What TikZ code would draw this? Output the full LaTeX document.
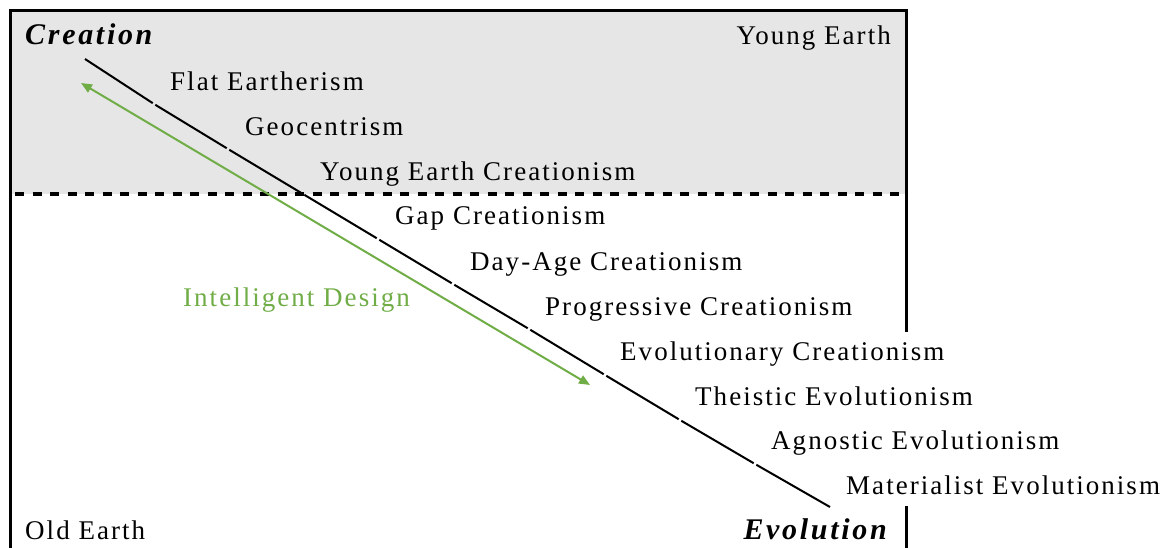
\documentclass[tikz,border=0pt]{standalone}
\usepackage{fontspec}
\setmainfont{Liberation Serif}[LetterSpace=7.5]
\usetikzlibrary{arrows.meta,calc}
\definecolor{idgreen}{HTML}{70AD47}
\definecolor{bandgray}{HTML}{E6E6E6}
\begin{document}
\begin{tikzpicture}[x=1pt,y=-1pt,
  lbl/.style={inner sep=0pt, anchor=base west, font=\fontsize{27}{32}\selectfont},
  big/.style={inner sep=0pt, font=\fontsize{30}{36}\selectfont\bfseries\itshape\addfontfeature{LetterSpace=9}},
  frame/.style={line width=3pt, line cap=rect},
  seg/.style={line width=2pt, black},
  idarrow/.style={line width=2pt, idgreen, {Triangle[length=11pt,width=9pt]}-{Triangle[length=11pt,width=9pt]}}]
\useasboundingbox (0,0) rectangle (1162,548);
% young-earth shaded band
\fill[bandgray] (10,11) rectangle (906,194);
\draw[line width=3.3pt, dash pattern=on 9pt off 8.5pt] (15,194) -- (906,194);
% frame
\draw[frame] (10,548) -- (10,11) -- (906,11) -- (906,330);
\draw[frame] (906,507) -- (906,548);
% corner labels
\node[big, anchor=base west] (creation) at (25,45) {Creation};
\node[lbl, anchor=base east] (young) at (891,45) {Young Earth};
\node[lbl] (old) at (25,539) {Old Earth};
\node[big, anchor=base east] (evolution) at (887,539) {Evolution};
% row labels
\node[lbl] (r0) at (170,91) {Flat Eartherism};
\node[lbl] (r1) at (245,136) {Geocentrism};
\node[lbl] (r2) at (320,181) {Young Earth Creationism};
\node[lbl] (r3) at (395,225) {Gap Creationism};
\node[lbl] (r4) at (470,270) {Day-Age Creationism};
\node[lbl] (r5) at (545,315) {Progressive Creationism};
\node[lbl] (r6) at (620,360) {Evolutionary Creationism};
\node[lbl] (r7) at (695,405) {Theistic Evolutionism};
\node[lbl] (r8) at (771,449) {Agnostic Evolutionism};
\node[lbl] (r9) at (846,494) {Materialist Evolutionism};
% spectrum line
\coordinate (c0) at (85,59);
\coordinate (c1) at (154,104);
\coordinate (c2) at (228,149);
\coordinate (c3) at (303,194);
\coordinate (c4) at (378,239);
\coordinate (c5) at (453,284);
\coordinate (c6) at (529,329);
\coordinate (c7) at (605,375);
\coordinate (c8) at (680,420);
\coordinate (c9) at (755,464);
\coordinate (c10) at (830,507);
\draw[seg, shorten >=1.5pt] (c0) -- (c1);
\foreach \a/\b in {1/2,2/3,3/4,4/5,5/6,6/7,7/8,8/9}
  \draw[seg, shorten <=1.5pt, shorten >=1.5pt] (c\a) -- (c\b);
\draw[seg, shorten <=1.5pt] (c9) -- (c10);
% intelligent design
\coordinate (idA) at (81,83);
\coordinate (idB) at (590,385);
\draw[idarrow] (idA) -- (idB);
\node[lbl, text=idgreen] (id) at (183,306) {Intelligent Design};
\end{tikzpicture}
\end{document}
